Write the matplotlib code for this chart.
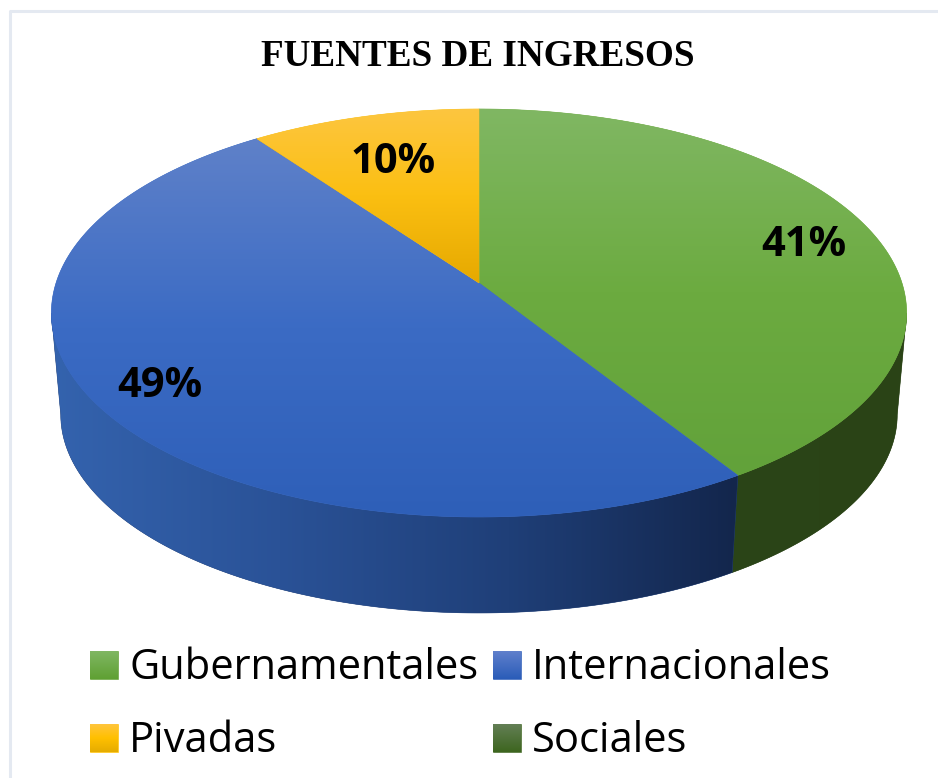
import numpy as np
import matplotlib
matplotlib.use("Agg")
import matplotlib.pyplot as plt
from matplotlib.colors import LinearSegmentedColormap
from matplotlib.patches import Polygon

# Data
categories = ["Gubernamentales", "Internacionales", "Pivadas", "Sociales"]
values = [41, 49, 10, 0]
title = "FUENTES DE INGRESOS"

# Gradients, one per slice
top_colors = [["#80b763", "#6cab40", "#62a23a"],
              ["#5f81c9", "#3b6bc4", "#2e5fb8"],
              ["#fdc640", "#fbbf12", "#e6a900"],
              ["#637f55", "#4a6e30", "#3d651f"]]
key_colors = [["#80b763", "#5fa033"],
              ["#6080cc", "#2a5cb8"],
              ["#ffc53d", "#ffc000", "#e5ac00"],
              ["#637f55", "#3d651f"]]
wall_colors = [["#2b4518", "#2a4316"],
               ["#3463ae", "#2a5297", "#1f3f78", "#13264c"],
               ["#8a6a00", "#8a6a00"],
               ["#2b4518", "#2a4316"]]

# Pie projection, in pixels
CX, CY = 479, 283
A, B, K = 199.6, 423, 0.147
NADIR_Y, SHRINK_X, SHRINK_Y = 4000, 0.022, 0.02756
# widest points of the projected rim, the wall stops there
WALL_FROM, WALL_TO = np.radians(98.5), np.radians(261.5)

label_pos = [(804, 256), (160, 397), (393, 173)]


def rim(theta):
    """Top rim point, theta in radians clockwise from the top of the pie"""
    u, v = np.sin(theta), np.cos(theta)
    d = 1 + K * v
    return CX + B * u / d, CY - A * v / d


def lower(x, y):
    """Same rim point on the bottom face of the pie"""
    return x + (CX - x) * SHRINK_X, y + (NADIR_Y - y) * SHRINK_Y


def fill_gradient(ax, poly_xy, colors, horizontal=False):
    xs, ys = poly_xy[:, 0], poly_xy[:, 1]
    # solid underlay hides the seams between the clipped gradients
    mid = colors[len(colors) // 2]
    patch = Polygon(poly_xy, closed=True, fc=mid, ec=mid, lw=0.4, zorder=2)
    ax.add_patch(patch)
    cmap = LinearSegmentedColormap.from_list("g", colors)
    grad = np.linspace(0, 1, 256)
    grad = grad[None, :] if horizontal else grad[:, None]
    im = ax.imshow(grad, cmap=cmap, aspect="auto", interpolation="bilinear",
                   extent=(xs.min(), xs.max(), ys.max(), ys.min()), zorder=2)
    im.set_clip_path(patch)


fig = plt.figure(figsize=(9.38, 7.78), dpi=100)
ax = fig.add_axes([0, 0, 1, 1])

# Frame of the chart area
ax.plot([9.5, 9.5, 938], [778, 11, 11], color="#e4e9f1", lw=2.2, zorder=1)

fractions = np.cumsum([0] + values) / sum(values)
angles = fractions * 2 * np.pi

# Side wall first, only the part facing the viewer
for i in range(len(values)):
    a0 = max(angles[i], WALL_FROM)
    a1 = min(angles[i + 1], WALL_TO)
    if a1 <= a0:
        continue
    t = np.linspace(a0, a1, 200)
    x, y = rim(t)
    bx, by = lower(x, y)
    wall = np.vstack([np.column_stack([x, y]), np.column_stack([bx, by])[::-1]])
    fill_gradient(ax, wall, wall_colors[i], horizontal=True)

# Top face
for i in range(len(values)):
    if values[i] == 0:
        continue
    t = np.linspace(angles[i], angles[i + 1], 300)
    x, y = rim(t)
    top = np.vstack([[CX, CY], np.column_stack([x, y])])
    fill_gradient(ax, top, top_colors[i])

# Value labels
for i, v in enumerate(values):
    if v > 0:
        ax.text(label_pos[i][0], label_pos[i][1], f"{v}%", ha="center", va="baseline",
                fontsize=30, fontweight="bold", family="Open Sans", color="black", zorder=5)

ax.text(478, 56, title, ha="center", va="center", fontsize=26.7, fontweight="bold",
        family="Liberation Serif", color="black", zorder=5)

# Legend
key_x = [90, 493, 90, 493]
key_y = [651, 651, 724, 724]
for i, name in enumerate(categories):
    box = np.array([[key_x[i], key_y[i]], [key_x[i] + 28, key_y[i]],
                    [key_x[i] + 28, key_y[i] + 28], [key_x[i], key_y[i] + 28]])
    fill_gradient(ax, box, key_colors[i])
    ax.text(key_x[i] + 39, key_y[i] + 28, name, ha="left", va="baseline", fontsize=30,
            family="Open Sans", color="black", zorder=5)

ax.set_xlim(0, 938)
ax.set_ylim(778, 0)
ax.axis("off")

fig.savefig("out.png", dpi=100, facecolor="white")
